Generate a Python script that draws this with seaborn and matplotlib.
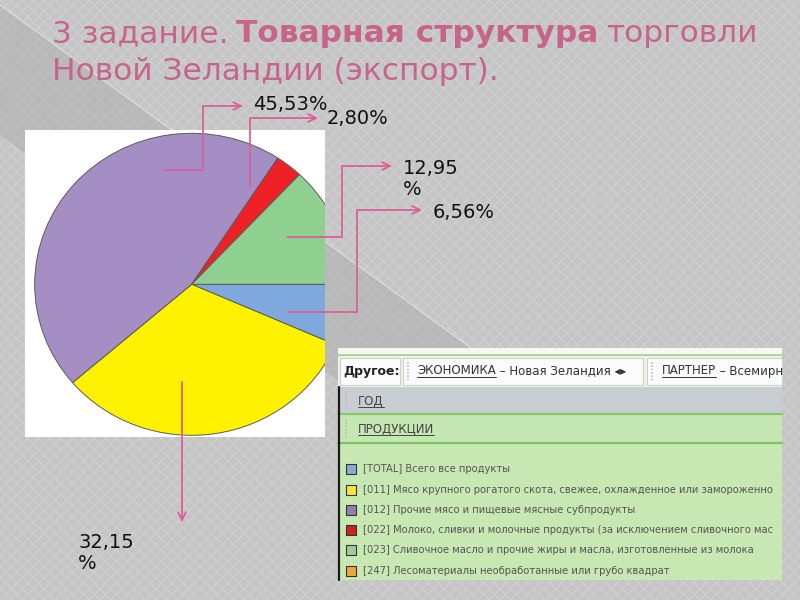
import numpy as np
import pandas as pd
import matplotlib
matplotlib.use("Agg")
import matplotlib.pyplot as plt
from matplotlib.patches import Rectangle, Polygon
import seaborn as sns

# ---------------- data ----------------
shares = [6.56, 32.15, 45.53, 2.80, 12.95]
share_labels = ["6,56%", "32,15\n%", "45,53%", "2,80%", "12,95\n%"]
slice_colors = ["#7fa8dc", "#fff200", "#a58ec4", "#ee2226", "#8fcf8f"]

legend_items = [
    "[TOTAL] Всего все продукты",
    "[011] Мясо крупного рогатого скота, свежее, охлажденное или замороженно",
    "[012] Прочие мясо и пищевые мясные субпродукты",
    "[022] Молоко, сливки и молочные продукты (за исключением сливочного мас",
    "[023] Сливочное масло и прочие жиры и масла, изготовленные из молока",
    "[247] Лесоматериалы необработанные или грубо квадрат",
]
legend_colors = ["#86acd8", "#f3e63c", "#8e80a8", "#d02222", "#9ccd9c", "#f0a63a"]

title_line1 = [("3 задание.", "normal"), ("Товарная структура", "bold"), ("торговли", "normal")]
title_line2 = "Новой Зеландии (экспорт)."
filter_label = "Другое:"
economy_key = "ЭКОНОМИКА"
economy_val = " – Новая Зеландия ◂▸"
partner_key = "ПАРТНЕР"
partner_val = " – Всемирн"
row_year = "ГОД"
row_products = "ПРОДУКЦИИ"

# ---------------- style ----------------
sns.set_theme(style="white")
plt.rcParams["font.family"] = ["DejaVu Sans"]
plt.rcParams["hatch.linewidth"] = 0.9

W, H = 800, 600
fig = plt.figure(figsize=(8, 6), dpi=100)
fig.patch.set_facecolor("#c6c6c6")

bg = fig.add_axes([0, 0, 1, 1], zorder=0)
bg.set_xlim(0, W); bg.set_ylim(H, 0); bg.axis("off")

# background pattern + diagonal band
bg.add_patch(Rectangle((0, 0), W, H, facecolor="#c5c5c5", edgecolor="#cfcfcf",
                       hatch="xxx", linewidth=0, zorder=0))
k = 0.728
band = Polygon([(0, 5), (560, 5 + k * 560), (560, 5 + k * 560 + 130), (0, 135)],
               closed=True, facecolor="#a9a9a9", edgecolor="none", alpha=0.45, zorder=1)
bg.add_patch(band)
bg.plot([0, 560], [5, 5 + k * 560], color="#dedede", lw=0.8, zorder=2)

# white box behind the pie
bx0, by0, bx1, by1 = 25, 130, 325, 437
bg.add_patch(Rectangle((bx0, by0), bx1 - bx0, by1 - by0, facecolor="white",
                       edgecolor="none", zorder=3))

# ---------------- title ----------------
renderer = fig.canvas.get_renderer()
title_color = "#c6648a"
fs = 22.5
x = 52
for txt, wgt in title_line1:
    t = bg.text(x, 42, txt, fontsize=fs, fontweight=wgt, color=title_color,
                ha="left", va="baseline", zorder=5)
    x += t.get_window_extent(renderer=renderer).width + fs * 0.33
bg.text(52, 80, title_line2, fontsize=fs, color=title_color, ha="left",
        va="baseline", zorder=5)

# ---------------- pie ----------------
pie_ax = fig.add_axes([bx0 / W, (H - by1) / H, (bx1 - bx0) / W, (by1 - by0) / H], zorder=1)
pie_ax.pie(shares, colors=slice_colors, startangle=0, counterclock=False,
           wedgeprops=dict(edgecolor="#5a5a5a", linewidth=0.7, clip_on=True))
cx, cy, rx, ry = 191.7, 284.3, 157.0, 151.0
pie_ax.set_aspect("auto")
pie_ax.set_xlim((bx0 - cx) / rx, (bx1 - cx) / rx)
pie_ax.set_ylim((cy - by1) / ry, (cy - by0) / ry)
pie_ax.axis("off")

# ---------------- overlay: callouts + panel ----------------
top = fig.add_axes([0, 0, 1, 1], zorder=2)
top.axis("off")

pink = "#dc5f98"
callouts = [  # (path points, arrow end, label position, slice index)
    ([(163, 170), (203, 170), (203, 106)], (243, 106), (253, 104), 2),
    ([(250, 188), (250, 118)], (318, 118), (327, 118), 3),
    ([(287, 237), (342, 237), (342, 166)], (392, 166), (403, 179), 4),
    ([(287, 312), (357, 312), (357, 210)], (422, 210), (433, 212), 0),
    ([(182, 382)], (182, 522), (78, 553), 1),
]
for pts, end, lab, idx in callouts:
    xs = [p[0] for p in pts]; ys = [p[1] for p in pts]
    if len(pts) > 1:
        top.plot(xs, ys, color=pink, lw=1.3, solid_capstyle="butt", zorder=4)
    top.annotate("", xy=end, xytext=pts[-1],
                 arrowprops=dict(arrowstyle="->", color=pink, lw=1.3,
                                 shrinkA=0, shrinkB=0, mutation_scale=14), zorder=4)
    top.text(lab[0], lab[1], share_labels[idx], fontsize=14, color="#111111",
             ha="left", va="center", linespacing=1.15, zorder=5)

# panel
px0, py0, px1, py1 = 338, 348, 782, 580
top.add_patch(Rectangle((px0, py0), px1 - px0, 7, facecolor="#f6f8f3", edgecolor="none", zorder=2))
top.plot([px0, px1], [355, 355], color="#a9d58f", lw=1.2, zorder=3)
top.add_patch(Rectangle((px0, 356), px1 - px0, 31, facecolor="#eef1ec", edgecolor="none", zorder=2))
for (a, b) in [(340, 400), (403, 643), (647, 782)]:
    top.add_patch(Rectangle((a, 358), b - a, 27, facecolor="#fbfbfb",
                            edgecolor="#c9d6c3", lw=0.8, zorder=3))
top.add_patch(Rectangle((px0, 387), px1 - px0, 26, facecolor="#c8cdd2", edgecolor="none", zorder=2))
top.plot([px0, px1], [414, 414], color="#86c76a", lw=1.6, zorder=3)
top.add_patch(Rectangle((px0, 415), px1 - px0, 27, facecolor="#c5e7b3", edgecolor="none", zorder=2))
top.plot([px0, px1], [443, 443], color="#7cc660", lw=1.6, zorder=3)
top.add_patch(Rectangle((px0, 444), px1 - px0, py1 - 444, facecolor="#c8e8b3", edgecolor="none", zorder=2))
top.plot([339, 339], [387, py1], color="#1a1a1a", lw=1.6, zorder=4)

# grip dots
for gx, gy0, gy1 in [(408, 362, 381), (652, 362, 381), (346, 391, 410), (346, 419, 438)]:
    top.plot([gx, gx], [gy0, gy1], color="#b8bcb8", lw=1.2, ls=(0, (1, 1)), zorder=4)

def underlined(xp, yp, s, size, color, extra=None, extra_color=None):
    t = top.text(xp, yp, s, fontsize=size, color=color, ha="left", va="center", zorder=5)
    w = t.get_window_extent(renderer=renderer).width
    top.plot([xp, xp + w], [yp + 6, yp + 6], color=color, lw=0.7, zorder=5)
    if extra:
        top.text(xp + w, yp, extra, fontsize=size, color=extra_color, ha="left",
                 va="center", zorder=5)

top.text(343, 371, filter_label, fontsize=9, fontweight="bold", color="#222222",
         ha="left", va="center", zorder=5)
underlined(417, 371, economy_key, 8.5, "#333333", economy_val, "#333333")
underlined(662, 371, partner_key, 8.5, "#333333", partner_val, "#333333")
underlined(358, 401, row_year, 8.5, "#444444")
underlined(358, 429, row_products, 8.5, "#444444")

row_y = [469, 490, 510, 530, 550, 571]
sns.scatterplot(x=[351] * len(row_y), y=row_y, hue=legend_items, palette=legend_colors,
                marker="s", s=60, edgecolor="#333333", linewidth=0.8, legend=False,
                ax=top, zorder=5)
for yy, s in zip(row_y, legend_items):
    top.text(363, yy, s, fontsize=7.2, color="#555555", ha="left", va="center", zorder=5)

top.set_xlim(0, W); top.set_ylim(H, 0)
top.axis("off")

fig.savefig("out.png", dpi=100)
